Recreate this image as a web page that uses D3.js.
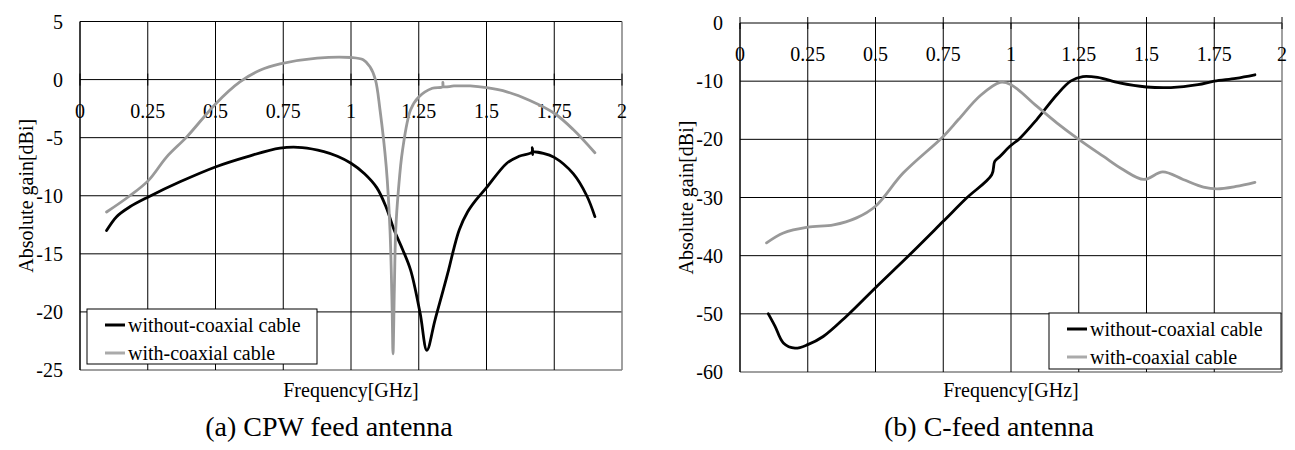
<!DOCTYPE html>
<html>
<head>
<meta charset="utf-8">
<script src="https://cdn.jsdelivr.net/npm/d3@7"></script>
<style>
  html, body { margin: 0; padding: 0; background: #fff; }
</style>
</head>
<body>
<svg id="chart" width="1295" height="450" font-family="Liberation Serif, DejaVu Serif, serif"></svg>
<script>
// ---------- data ----------
const xTickLabels = ["0", "0.25", "0.5", "0.75", "1", "1.25", "1.5", "1.75", "2"];
const xTickValues = [0, 0.25, 0.5, 0.75, 1, 1.25, 1.5, 1.75, 2];
const seriesNames = ["without-coaxial cable", "with-coaxial cable"];

// (a) CPW feed antenna
const cpwYTicks = [5, 0, -5, -10, -15, -20, -25];
const cpwWithoutFreq = [0.098, 0.135, 0.184, 0.252, 0.369, 0.502, 0.615, 0.738, 0.82, 0.9, 0.95, 1.0, 1.05, 1.095, 1.13, 1.16, 1.19, 1.22, 1.255, 1.28, 1.31, 1.36, 1.38, 1.40, 1.43, 1.46, 1.5, 1.575, 1.62, 1.668, 1.669, 1.670, 1.671, 1.71, 1.75, 1.82, 1.87, 1.9];
const cpwWithoutGain = [-13.0, -11.8, -10.95, -10.1, -8.8, -7.5, -6.65, -5.9, -5.85, -6.2, -6.6, -7.2, -8.1, -9.3, -11.0, -13.0, -14.6, -16.4, -20.1, -23.3, -20.7, -16.4, -14.5, -12.9, -11.4, -10.4, -9.3, -7.2, -6.6, -6.25, -5.85, -6.45, -6.25, -6.35, -6.7, -8.1, -10.0, -11.8];
const cpwWithFreq = [0.098, 0.184, 0.252, 0.32, 0.394, 0.502, 0.59, 0.664, 0.738, 0.875, 1.0, 1.045, 1.07, 1.09, 1.107, 1.13, 1.144, 1.152, 1.155, 1.16, 1.165, 1.175, 1.19, 1.22, 1.25, 1.3, 1.338, 1.339, 1.341, 1.38, 1.44, 1.5, 1.575, 1.66, 1.75, 1.82, 1.9];
const cpwWithGain = [-11.4, -10.0, -8.7, -6.65, -4.93, -2.05, -0.2, 0.8, 1.35, 1.85, 1.9, 1.7, 1.1, 0.0, -2.6, -7.5, -13.0, -20.0, -23.6, -18.0, -13.0, -9.5, -6.1, -2.6, -1.5, -0.75, -0.62, -0.25, -0.6, -0.55, -0.55, -0.7, -1.05, -1.8, -2.9, -4.3, -6.3];

// (b) C-feed antenna
const cfYTicks = [0, -10, -20, -30, -40, -50, -60];
const cfWithoutFreq = [0.1045, 0.129, 0.16, 0.203, 0.25, 0.307, 0.393, 0.5, 0.627, 0.75, 0.836, 0.929, 0.94, 0.96, 0.996, 1.033, 1.095, 1.17, 1.22, 1.265, 1.32, 1.40, 1.5, 1.59, 1.69, 1.75, 1.83, 1.9];
const cfWithoutGain = [-50.0, -52.1, -55.0, -55.9, -55.3, -53.9, -50.4, -45.5, -39.8, -34.1, -30.1, -26.1, -23.8, -22.9, -21.2, -19.8, -16.6, -12.3, -10.0, -9.2, -9.35, -10.3, -11.0, -11.1, -10.6, -10.0, -9.5, -8.9];
const cfWithFreq = [0.098, 0.16, 0.25, 0.345, 0.43, 0.5, 0.602, 0.75, 0.806, 0.886, 0.96, 1.0, 1.095, 1.17, 1.25, 1.34, 1.413, 1.49, 1.56, 1.635, 1.71, 1.76, 1.83, 1.9];
const cfWithGain = [-37.8, -36.1, -35.1, -34.7, -33.5, -31.5, -25.8, -19.5, -16.6, -12.5, -10.2, -10.6, -14.3, -17.2, -20.0, -22.9, -25.2, -26.9, -25.6, -26.9, -28.2, -28.5, -28.1, -27.4];

const seriesColors = ["#000000", "#999999"];

// ---------- drawing ----------
const svg = d3.select("#chart");

function drawChart(opt) {
  const g = svg.append("g");
  const x = d3.scaleLinear().domain([0, 2]).range([opt.left, opt.left + 542]);
  const y = d3.scaleLinear().domain(opt.yDomain).range([opt.bottom, opt.top]);
  const yMin = opt.yDomain[0], yMax = opt.yDomain[1];

  // horizontal gridlines
  g.selectAll("line.hg").data(opt.yTicks).enter().append("line")
    .attr("x1", x(0)).attr("x2", x(2))
    .attr("y1", d => y(d)).attr("y2", d => y(d))
    .attr("stroke", d => d === yMin ? "#808080" : "#000")
    .attr("stroke-width", d => d === yMin ? 1.5 : 1);

  // vertical gridlines
  g.selectAll("line.vg").data(xTickValues.filter(v => v > 0)).enter().append("line")
    .attr("x1", d => x(d)).attr("x2", d => x(d))
    .attr("y1", y(yMax)).attr("y2", y(yMin))
    .attr("stroke", d => d === 2 ? "#808080" : "#000")
    .attr("stroke-width", d => d === 2 ? 1.5 : 1);

  // left axis line
  g.append("line").attr("x1", x(0)).attr("x2", x(0))
    .attr("y1", y(yMax)).attr("y2", y(yMin))
    .attr("stroke", "#000").attr("stroke-width", 1.5);

  // x-axis at y = 0 (crossing ticks + labels)
  g.selectAll("line.xt").data(xTickValues).enter().append("line")
    .attr("x1", d => x(d)).attr("x2", d => x(d))
    .attr("y1", y(0) - 6).attr("y2", y(0) + 6)
    .attr("stroke", "#000").attr("stroke-width", 1);
  g.selectAll("text.xl").data(xTickValues).enter().append("text")
    .attr("x", d => x(d)).attr("y", y(0) + 38)
    .attr("text-anchor", "middle").attr("font-size", 20)
    .text((d, i) => xTickLabels[i]);

  // y labels
  g.selectAll("text.yl").data(opt.yTicks).enter().append("text")
    .attr("x", x(0) - 17).attr("y", d => y(d) + 7)
    .attr("text-anchor", "end").attr("font-size", 20)
    .text(d => d);

  // axis titles
  g.append("text")
    .attr("transform", `translate(${opt.left - 54},${(opt.top + opt.bottom) / 2}) rotate(-90)`)
    .attr("text-anchor", "middle").attr("dominant-baseline", "central")
    .attr("font-size", 20).text("Absolute gain[dBi]");
  g.append("text").attr("x", x(1)).attr("y", 397)
    .attr("text-anchor", "middle").attr("font-size", 20).text("Frequency[GHz]");
  g.append("text").attr("x", opt.captionX).attr("y", 436)
    .attr("text-anchor", "middle").attr("font-size", 28).text(opt.caption);

  // series
  const line = d3.line().x(d => x(d[0])).y(d => y(d[1])).curve(d3.curveCatmullRom.alpha(0.5));
  opt.series.forEach((s, i) => {
    const pts = s.freq.map((f, k) => [f, s.gain[k]]);
    g.append("path").datum(pts)
      .attr("d", line).attr("fill", "none")
      .attr("stroke", seriesColors[i]).attr("stroke-width", 2.8)
      .attr("stroke-linejoin", "round").attr("stroke-linecap", "round");
  });

  // legend
  const L = opt.legend;
  const lg = g.append("g");
  lg.append("rect").attr("x", L.x).attr("y", L.y).attr("width", L.w).attr("height", L.h)
    .attr("fill", "#fff").attr("stroke", "#000").attr("stroke-width", 1);
  seriesNames.forEach((name, i) => {
    const cy = L.y + 16 + i * 28;
    lg.append("line").attr("x1", L.x + 18).attr("x2", L.x + 38)
      .attr("y1", cy).attr("y2", cy)
      .attr("stroke", i === 0 ? "#000" : "#aaaaaa").attr("stroke-width", 3);
    lg.append("text").attr("x", L.x + 41).attr("y", cy + 7)
      .attr("font-size", 20).text(name);
  });
}

drawChart({
  left: 80, top: 21.5, bottom: 370, yDomain: [-25, 5], yTicks: cpwYTicks,
  caption: "(a) CPW feed antenna", captionX: 329,
  series: [{ freq: cpwWithoutFreq, gain: cpwWithoutGain }, { freq: cpwWithFreq, gain: cpwWithGain }],
  legend: { x: 87, y: 309, w: 230, h: 55 }
});
drawChart({
  left: 740, top: 23, bottom: 372, yDomain: [-60, 0], yTicks: cfYTicks,
  caption: "(b) C-feed antenna", captionX: 989,
  series: [{ freq: cfWithoutFreq, gain: cfWithoutGain }, { freq: cfWithFreq, gain: cfWithGain }],
  legend: { x: 1049, y: 313, w: 232, h: 56 }
});
</script>
</body>
</html>
